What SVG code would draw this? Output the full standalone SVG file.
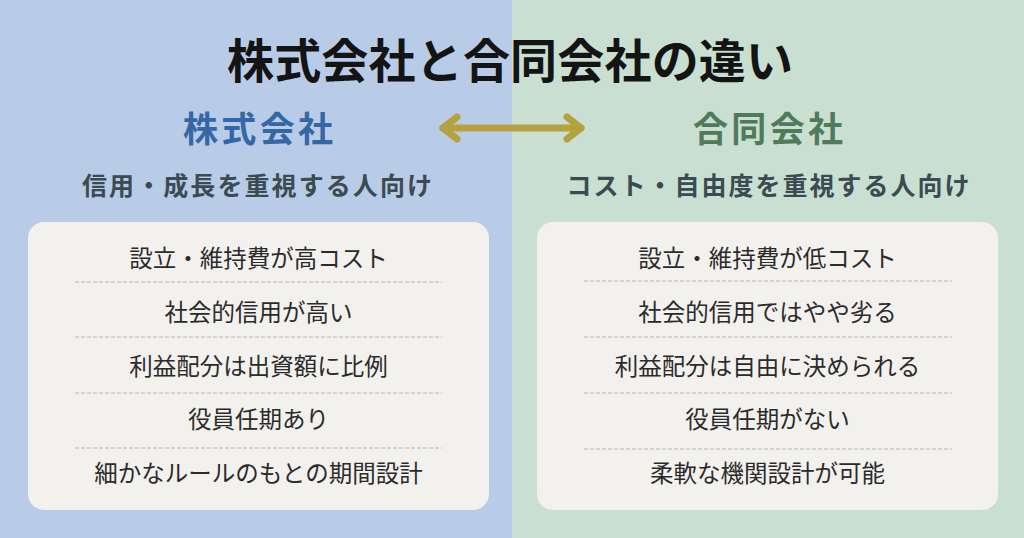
<svg xmlns="http://www.w3.org/2000/svg" width="1024" height="538" viewBox="0 0 1024 538">
<defs>
<style>
text{font-family:"Noto Sans CJK JP","Noto Sans",sans-serif;text-anchor:middle}
.title{font-size:47px;font-weight:700;fill:#141414}
.head{font-size:35px;font-weight:700}
.sub{font-size:25px;font-weight:700;fill:#3c4a52}
.row{font-size:23.5px;font-weight:400;fill:#2b2b2b}
.box{fill:#f3f1ee}
.dash{stroke:#c9c9c9;stroke-width:1.3;stroke-dasharray:4 2;fill:none}
.arrow{stroke:#b5a140;stroke-width:7;stroke-linecap:round;fill:none}
</style>
<marker id="chev" markerUnits="userSpaceOnUse" viewBox="-20 -16 30 32" markerWidth="30" markerHeight="32" refX="0" refY="0" orient="auto-start-reverse" overflow="visible">
<path d="M-14,-11 L0,0 L-14,11" stroke="#b5a140" stroke-width="7" stroke-linecap="round" stroke-linejoin="round" fill="none"/>
</marker>
</defs>
<rect x="0" y="0" width="512" height="538" fill="#b8cce7"/>
<rect x="512" y="0" width="512" height="538" fill="#c9dfd1"/>
<g id="title">
<text class="title" x="510" y="78" textLength="566" lengthAdjust="spacing">株式会社と合同会社の違い</text>
</g>
<g id="kabushiki">
<text class="head" x="258" y="142" fill="#3566a6" textLength="150" lengthAdjust="spacing">株式会社</text>
<text class="sub" x="257" y="194.5" textLength="350" lengthAdjust="spacing">信用・成長を重視する人向け</text>
<rect class="box" x="28" y="222" width="461" height="288" rx="16"/>
<line class="dash" x1="75" y1="282" x2="442" y2="282"/>
<line class="dash" x1="75" y1="337" x2="442" y2="337"/>
<line class="dash" x1="75" y1="393" x2="442" y2="393"/>
<line class="dash" x1="75" y1="448" x2="442" y2="448"/>
<text class="row" x="258.5" y="266.5">設立・維持費が高コスト</text>
<text class="row" x="258.5" y="320.5">社会的信用が高い</text>
<text class="row" x="258.5" y="375">利益配分は出資額に比例</text>
<text class="row" x="258.5" y="428">役員任期あり</text>
<text class="row" x="258.5" y="481.5">細かなルールのもとの期間設計</text>
</g>
<g id="goudou">
<text class="head" x="768" y="142" fill="#4f7b5b" textLength="150" lengthAdjust="spacing">合同会社</text>
<text class="sub" x="768" y="194.5" textLength="403" lengthAdjust="spacing">コスト・自由度を重視する人向け</text>
<rect class="box" x="537" y="222" width="461" height="288" rx="16"/>
<line class="dash" x1="584" y1="281" x2="952" y2="281"/>
<line class="dash" x1="584" y1="337" x2="952" y2="337"/>
<line class="dash" x1="584" y1="393" x2="952" y2="393"/>
<line class="dash" x1="584" y1="449" x2="952" y2="449"/>
<text class="row" x="767.5" y="266.5">設立・維持費が低コスト</text>
<text class="row" x="767.5" y="320.5">社会的信用ではやや劣る</text>
<text class="row" x="767.5" y="375">利益配分は自由に決められる</text>
<text class="row" x="767.5" y="428">役員任期がない</text>
<text class="row" x="767.5" y="481.5">柔軟な機関設計が可能</text>
</g>
<g id="connectors">
<line class="arrow" x1="443" y1="128" x2="581" y2="128" marker-start="url(#chev)" marker-end="url(#chev)"/>
</g>
</svg>
